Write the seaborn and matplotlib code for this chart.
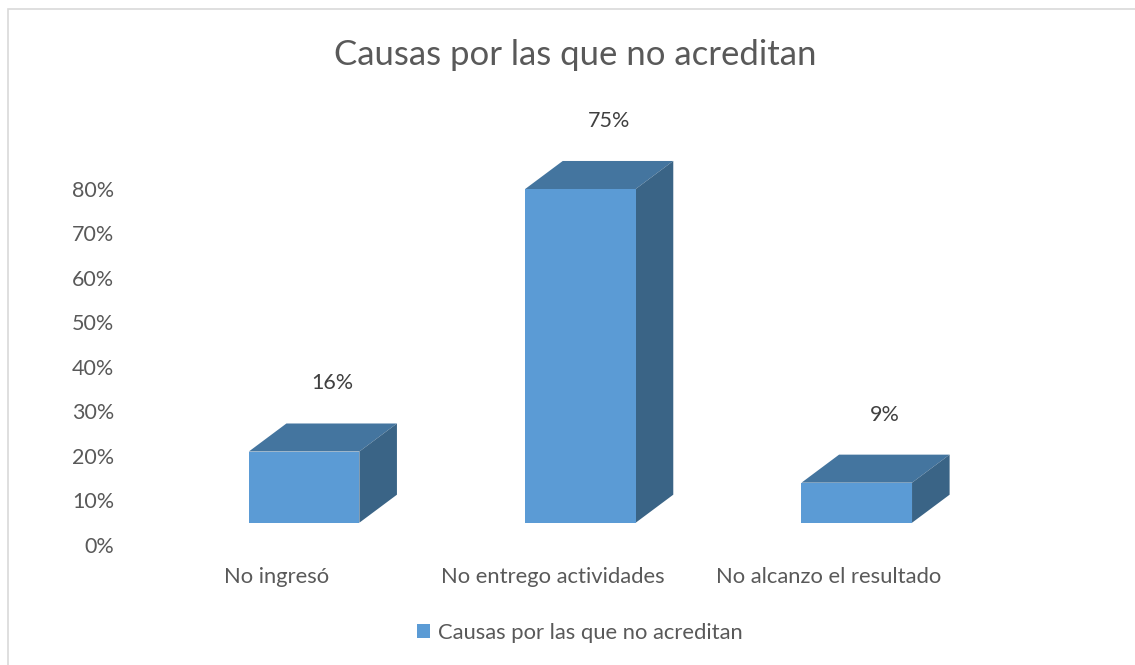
import matplotlib
matplotlib.use("Agg")
import matplotlib.pyplot as plt
import seaborn as sns
import pandas as pd
from matplotlib.patches import Polygon, Rectangle, Patch

# --- datos ---
causas = ["No ingresó", "No entrego actividades", "No alcanzo el resultado"]
porcentajes = [0.16, 0.75, 0.09]
etiquetas = ["16%", "75%", "9%"]
serie = "Causas por las que no acreditan"
titulo = "Causas por las que no acreditan"
ticks_y = [0.0, 0.1, 0.2, 0.3, 0.4, 0.5, 0.6, 0.7, 0.8]

# colores estilo Excel 3D
color_frente = "#5B9BD5"
color_techo = "#44759F"
color_lado = "#3A6486"
color_texto = "#595959"

sns.set_theme(style="white")
plt.rcParams["font.family"] = ["Lato", "DejaVu Sans"]

df = pd.DataFrame({"causa": causas, "valor": porcentajes})

fig = plt.figure(figsize=(11.35, 6.65), dpi=100)
ax = fig.add_axes([0.1216, 0.1805, 0.7304, 0.6022])

sns.barplot(data=df, x="causa", y="valor", color=color_frente, width=0.4,
            saturation=1, ax=ax, zorder=3)

# --- efecto 3D ---
piso = 0.05
desplaz_x = 0.101
prof_x = 0.136
prof_y = 0.063
for p, txt in zip(ax.patches, etiquetas):
    p.set_x(p.get_x() + desplaz_x)
    p.set_y(piso)
    p.set_edgecolor("none")
    x0 = p.get_x()
    x1 = x0 + p.get_width()
    y0 = piso
    y1 = piso + p.get_height()
    techo = Polygon([(x0, y1), (x1, y1), (x1 + prof_x, y1 + prof_y), (x0 + prof_x, y1 + prof_y)],
                    closed=True, facecolor=color_techo, edgecolor="none", zorder=2, clip_on=False)
    lado = Polygon([(x1, y0), (x1 + prof_x, y0 + prof_y), (x1 + prof_x, y1 + prof_y), (x1, y1)],
                   closed=True, facecolor=color_lado, edgecolor="none", zorder=2, clip_on=False)
    ax.add_patch(techo)
    ax.add_patch(lado)
    ax.text((x0 + x1) / 2 + prof_x * 0.75, y1 + prof_y + 0.09, txt, ha="center", va="center",
            fontsize=15.5, color="#404040")

ax.set_xlim(-0.5, 2.5)
ax.set_ylim(0, 0.9)
ax.set_yticks(ticks_y)
ax.set_yticklabels([f"{int(round(t * 100))}%" for t in ticks_y])
ax.tick_params(axis="y", length=0, pad=17, labelsize=15.5, labelcolor=color_texto)
ax.tick_params(axis="x", length=0, pad=16, labelsize=15.8, labelcolor=color_texto)
ax.set_xlabel("")
ax.set_ylabel("")
for s in ax.spines.values():
    s.set_visible(False)

fig.text(0.507, 0.917, titulo, ha="center", va="center", fontsize=25, color=color_texto)

ax.legend(handles=[Patch(facecolor=color_frente, edgecolor="none")], labels=[serie],
          loc="center", bbox_to_anchor=(0.5106, 0.048), bbox_transform=fig.transFigure,
          frameon=False, fontsize=15.8, handlelength=0.6, handleheight=0.6,
          handletextpad=0.35, labelcolor=color_texto)

# borde del grafico
fig.patches.append(Rectangle((8 / 1135, -0.02), 1.0, 1 - 9 / 665 + 0.02,
                             transform=fig.transFigure, fill=False,
                             edgecolor="#D9D9D9", linewidth=1.2))

fig.savefig("out.png", dpi=100)
